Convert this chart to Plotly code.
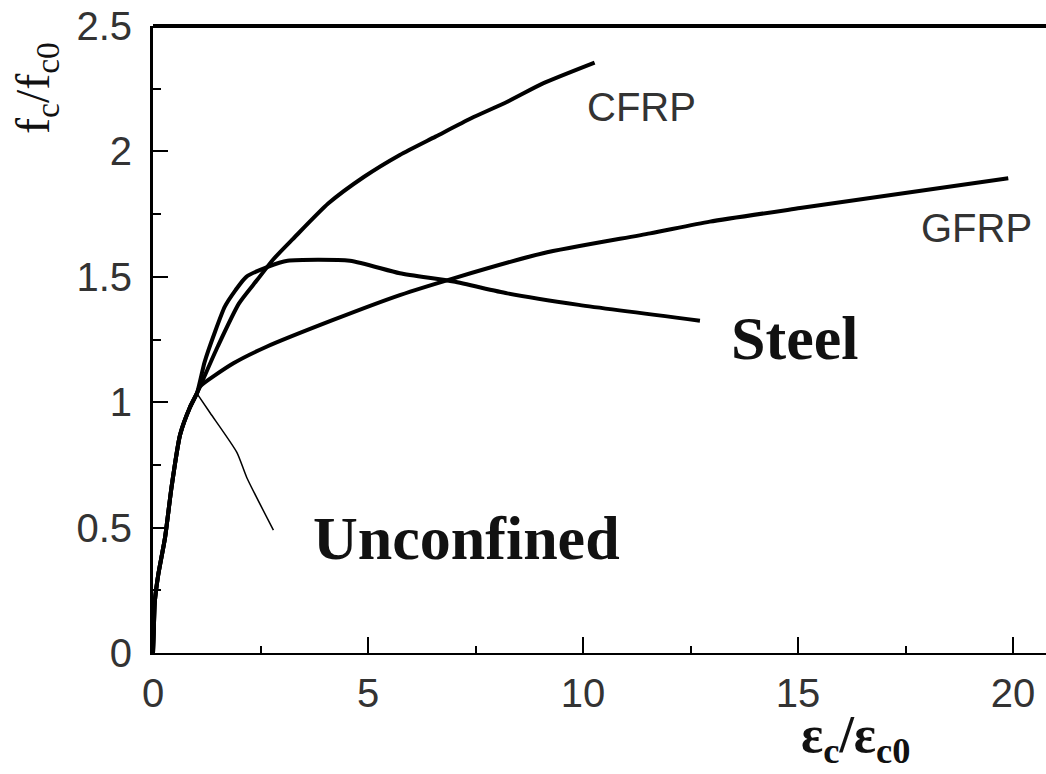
import plotly.graph_objects as go

# ---- data ----
common_x = [0.0, 0.02, 0.04, 0.12, 0.28, 0.43, 0.63, 0.86, 1.02]
common_y = [0.0, 0.10, 0.20, 0.31, 0.46, 0.66, 0.87, 0.98, 1.035]

cfrp_x = [1.02, 1.5, 2.0, 2.42, 2.8, 3.25, 4.08, 4.91, 5.74, 6.57, 7.40, 8.24, 9.07, 10.27]
cfrp_y = [1.035, 1.22, 1.394, 1.487, 1.57, 1.65, 1.793, 1.899, 1.986, 2.059, 2.132, 2.198, 2.271, 2.354]

gfrp_x = [1.02, 1.09, 1.87, 2.64, 4.19, 5.74, 6.99, 9.07, 11.56, 12.95, 15.05, 19.89]
gfrp_y = [1.035, 1.062, 1.155, 1.221, 1.328, 1.427, 1.494, 1.594, 1.673, 1.72, 1.774, 1.893]

steel_x = [1.02, 1.2, 1.43, 1.67, 1.92, 2.17, 2.67, 3.13, 4.58, 5.74, 6.99, 8.24, 9.90, 12.72]
steel_y = [1.035, 1.16, 1.275, 1.381, 1.447, 1.50, 1.54, 1.564, 1.564, 1.514, 1.481, 1.434, 1.388, 1.325]

unconf_x = [1.02, 1.33, 1.95, 2.18, 2.8]
unconf_y = [1.035, 0.957, 0.80, 0.70, 0.49]

x_ticks = [0, 5, 10, 15, 20]
y_ticks = [0, 0.5, 1, 1.5, 2, 2.5]
y_tick_text = ["0", "0.5", "1", "1.5", "2", "2.5"]

labels = ["CFRP", "GFRP", "Steel", "Unconfined"]
label_x = [11.37, 19.16, 14.93, 7.28]
label_y = [2.177, 1.695, 1.256, 0.459]

fig = go.Figure()

def curve(xs, ys, w):
    fig.add_trace(go.Scatter(x=common_x + xs[1:], y=common_y + ys[1:], mode="lines",
                             line=dict(color="black", width=w, shape="spline", smoothing=0.6),
                             showlegend=False, hoverinfo="skip"))

curve(cfrp_x, cfrp_y, 4)
curve(gfrp_x, gfrp_y, 4)
curve(steel_x, steel_y, 4)
fig.add_trace(go.Scatter(x=unconf_x, y=unconf_y, mode="lines",
                         line=dict(color="black", width=1.5, shape="spline", smoothing=0.6),
                         showlegend=False, hoverinfo="skip"))

sans = dict(family="Liberation Sans, Arial", size=40, color="#333333")
serif_b = dict(family="Liberation Serif, Times New Roman", size=62, color="#111111")

for i, t in enumerate(labels):
    f = sans if i < 2 else serif_b
    txt = t if i < 2 else "<b>" + t + "</b>"
    fig.add_annotation(x=label_x[i], y=label_y[i], text=txt, showarrow=False,
                       font=f, xanchor="center", yanchor="middle")

# axis titles
fig.add_annotation(xref="paper", yref="paper", x=(855 - 153) / 893, y=(653 - 772) / 627,
                   text="<b>ε<sub>c</sub>/ε<sub>c0</sub></b>", showarrow=False,
                   font=dict(family="Liberation Serif", size=52, color="#111111"),
                   xanchor="center", yanchor="bottom", borderpad=0)
fig.add_annotation(xref="paper", yref="paper", x=(36 - 153) / 893, y=(653 - 88) / 627,
                   text="f<sub>c</sub>/f<sub>c0</sub>", showarrow=False, textangle=-90,
                   font=dict(family="Liberation Serif", size=48, color="#111111"),
                   xanchor="center", yanchor="middle")

fig.add_shape(type="line", xref="paper", yref="paper", x0=0, x1=1, y0=1, y1=1,
              line=dict(color="black", width=4))

fig.update_layout(
    width=1046, height=774, autosize=False,
    margin=dict(l=153, r=0, t=26, b=121),
    paper_bgcolor="white", plot_bgcolor="white",
    xaxis=dict(range=[0, 893 / 43], tickvals=x_ticks, ticks="inside", ticklen=16, tickwidth=2,
               tickcolor="black", showline=True, linewidth=2, linecolor="black",
               showgrid=False, zeroline=False, tickfont=sans, ticklabelstandoff=4,
               minor=dict(tickvals=[2.5, 7.5, 12.5, 17.5], ticks="inside", ticklen=7,
                          tickwidth=2, tickcolor="black", showgrid=False)),
    yaxis=dict(range=[0, 2.5], tickvals=y_ticks, ticktext=y_tick_text, ticks="inside",
               ticklen=15, tickwidth=2, tickcolor="black", showline=True, linewidth=3,
               linecolor="black", showgrid=False, zeroline=False, tickfont=sans,
               ticklabelstandoff=10,
               minor=dict(tickvals=[0.25, 0.75, 1.25, 1.75, 2.25], ticks="inside", ticklen=8,
                          tickwidth=2, tickcolor="black", showgrid=False)),
)

fig.write_html("out.html", config={"displayModeBar": False},
               post_script="document.body.style.margin='0';document.body.style.overflow='hidden';")
